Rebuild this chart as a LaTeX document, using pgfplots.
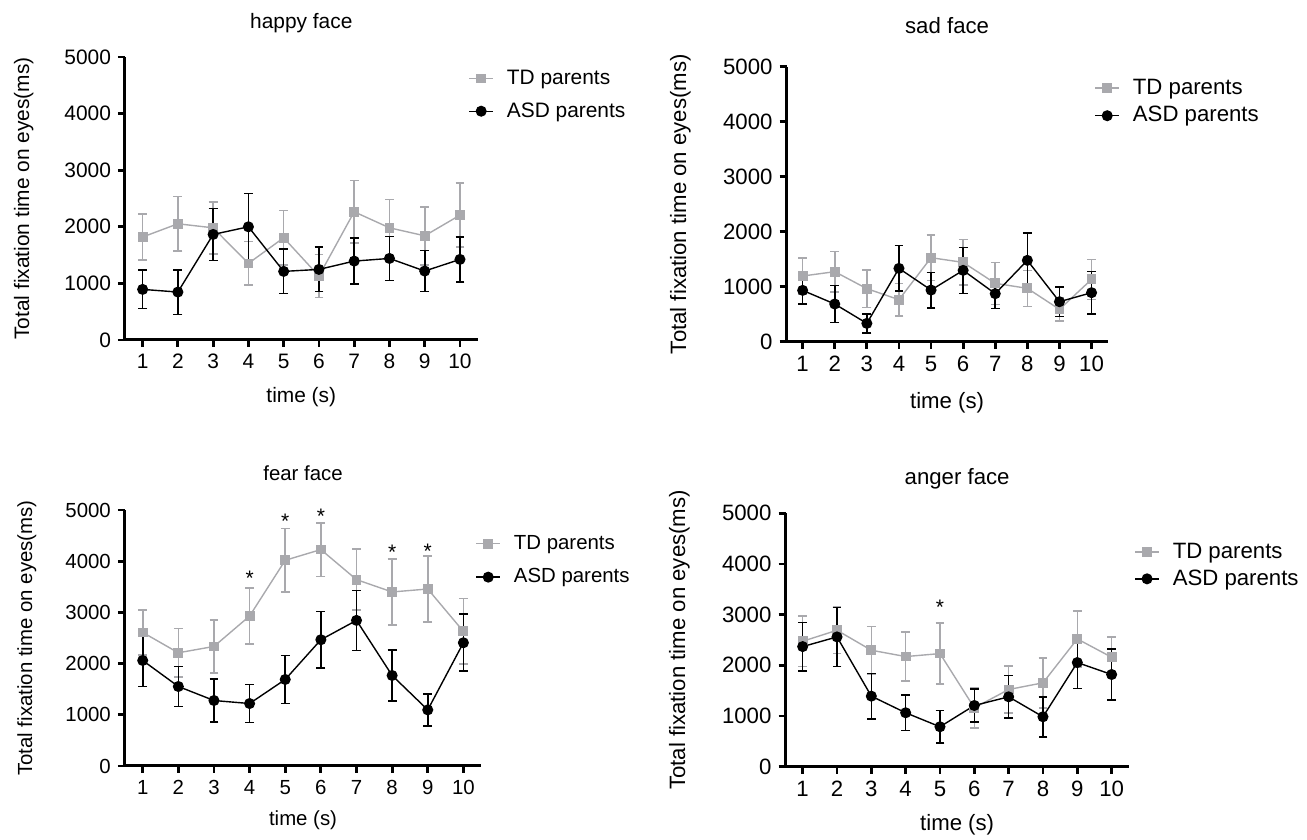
\documentclass[border=0pt]{standalone}
\usepackage{fontspec}
\setmainfont{Liberation Sans}
\usepackage{pgfplots}
\pgfplotsset{compat=1.18}
\definecolor{tdgray}{RGB}{169,169,173}
\pgfplotsset{
  every axis title shift=0pt,
  panel/.style={
    scale only axis,
    xmin=0.5, xmax=10.5, ymin=0, ymax=5000,
    axis x line*=bottom, axis y line*=left,
    axis line style={line width=1.5pt},
    xtick={1,2,...,10}, ytick={0,1000,2000,3000,4000,5000},
    tick align=outside, major tick length=3.5pt,
    tick style={line width=1.4pt, black},
    /pgf/number format/1000 sep={},
    /pgf/number format/assume math mode=true,
    xlabel={time (s)},
    ylabel={Total fixation time on eyes(ms)},
    clip=false,
    legend cell align=left,
    legend style={draw=none, fill=none, anchor=west, inner sep=0pt,
      /tikz/every odd column/.append style={column sep=4.5pt}},
    legend image code/.code={\draw[##1, mark repeat=2, mark phase=2] plot coordinates {(0pt,0pt) (6pt,0pt) (12pt,0pt)};},
  },
  fs/.style={
    tick label style={font=\fontsize{#1}{#1}\selectfont},
    label style={font=\fontsize{#1}{#1}\selectfont},
    title style={font=\fontsize{#1}{#1}\selectfont},
    legend style={font=\fontsize{#1}{#1}\selectfont},
  },
  td/.style={color=tdgray, line width=0.7pt, mark=square*, mark size=2.1pt, mark options={solid, fill=tdgray, draw=tdgray},
    error bars/.cd, y dir=both, y explicit, error bar style={line width=0.8pt, tdgray},
    error mark options={rotate=90, mark size=2.2pt, line width=0.8pt, tdgray}},
  asd/.style={color=black, line width=0.7pt, mark=*, mark size=2.4pt, mark options={solid, fill=black},
    error bars/.cd, y dir=both, y explicit, error bar style={line width=0.8pt, black},
    error mark options={rotate=90, mark size=2.2pt, line width=0.8pt, black}},
  stars/.style={only marks, mark=text, text mark={*}, text mark as node=true, text mark style={font=\fontsize{10.5}{10.5}\selectfont, text=black, anchor=center}, forget plot},
}
\begin{document}
\begin{tikzpicture}
% ---------------- happy face
\begin{axis}[panel, fs=10.45, at={(62.5pt,250pt)}, anchor=south west, width=176.3pt, height=141.5pt,
  title={happy face}, title style={at={(axis description cs:0.5,1.12)}, anchor=center},
  ylabel style={at={(axis description cs:-0.287,0.5)}, anchor=center},
  xlabel style={at={(axis description cs:0.5,-0.201)}, anchor=center},
  legend style={at={(axis description cs:0.973,0.866)}, row sep=3.6pt}]
\addplot+[td] coordinates {(1,1820) +- (0,408) (2,2053) +- (0,485) (3,1982) +- (0,459) (4,1353) +- (0,385) (5,1806) +- (0,480)
  (6,1129) +- (0,380) (7,2265) +- (0,556) (8,1982) +- (0,497) (9,1841) +- (0,512) (10,2206) +- (0,567)};
\addlegendentry{TD parents}
\addplot+[asd] coordinates {(1,894) +- (0,341) (2,847) +- (0,394) (3,1865) +- (0,459) (4,2000) +- (0,585) (5,1212) +- (0,391)
  (6,1247) +- (0,391) (7,1394) +- (0,403) (8,1441) +- (0,388) (9,1218) +- (0,362) (10,1424) +- (0,400)};
\addlegendentry{ASD parents}
\end{axis}
% ---------------- sad face
\begin{axis}[panel, fs=11.1, at={(393.3pt,249.15pt)}, anchor=south west, width=160.5pt, height=137.5pt,
  title={sad face}, title style={at={(axis description cs:0.5,1.148)}, anchor=center},
  ylabel style={at={(axis description cs:-0.331,0.5)}, anchor=center},
  xlabel style={at={(axis description cs:0.5,-0.223)}, anchor=center},
  legend style={at={(axis description cs:0.958,0.872)}, row sep=0.7pt}]
\addplot+[td] coordinates {(1,1194) +- (0,330) (2,1273) +- (0,366) (3,964) +- (0,342) (4,764) +- (0,294) (5,1527) +- (0,412)
  (6,1442) +- (0,415) (7,1061) +- (0,382) (8,970) +- (0,327) (9,588) +- (0,212) (10,1133) +- (0,364)};
\addlegendentry{TD parents}
\addplot+[asd] coordinates {(1,933) +- (0,243) (2,685) +- (0,336) (3,333) +- (0,172) (4,1333) +- (0,415) (5,939) +- (0,321)
  (6,1297) +- (0,418) (7,873) +- (0,270) (8,1479) +- (0,494) (9,727) +- (0,266) (10,891) +- (0,385)};
\addlegendentry{ASD parents}
\end{axis}
% ---------------- fear face
\begin{axis}[panel, fs=10.2, at={(62.45pt,37pt)}, anchor=south west, width=178.15pt, height=128pt,
  title={fear face}, title style={at={(axis description cs:0.5,1.145)}, anchor=center},
  ylabel style={at={(axis description cs:-0.275,0.5)}, anchor=center},
  xlabel style={at={(axis description cs:0.5,-0.211)}, anchor=center},
  legend style={at={(axis description cs:0.983,0.803)}, row sep=4.2pt}]
\addplot+[td] coordinates {(1,2609) +- (0,440) (2,2211) +- (0,476) (3,2335) +- (0,515) (4,2929) +- (0,545) (5,4018) +- (0,620)
  (6,4227) +- (0,524) (7,3640) +- (0,594) (8,3399) +- (0,640) (9,3457) +- (0,639) (10,2629) +- (0,639)};
\addlegendentry{TD parents}
\addplot+[asd] coordinates {(1,2061) +- (0,508) (2,1553) +- (0,391) (3,1279) +- (0,424) (4,1220) +- (0,371) (5,1690) +- (0,466)
  (6,2466) +- (0,548) (7,2844) +- (0,587) (8,1768) +- (0,499) (9,1096) +- (0,310) (10,2407) +- (0,557)};
\addlegendentry{ASD parents}
\addplot[stars] coordinates {(4,3670) (5,4770) (6,4875) (8,4170) (9,4200)};
\end{axis}
% ---------------- anger face
\begin{axis}[panel, fs=11.1, at={(392.75pt,36.65pt)}, anchor=south west, width=171.65pt, height=126.7pt,
  title={anger face}, title style={at={(axis description cs:0.5,1.135)}, anchor=center},
  ylabel style={at={(axis description cs:-0.309,0.5)}, anchor=center},
  xlabel style={at={(axis description cs:0.5,-0.23)}, anchor=center},
  legend style={at={(axis description cs:1.015,0.794)}, row sep=0.2pt}]
\addplot+[td] coordinates {(1,2475) +- (0,496) (2,2692) +- (0,460) (3,2298) +- (0,470) (4,2173) +- (0,483) (5,2232) +- (0,598)
  (6,1162) +- (0,395) (7,1523) +- (0,463) (8,1655) +- (0,492) (9,2521) +- (0,552) (10,2160) +- (0,400)};
\addlegendentry{TD parents}
\addplot+[asd] coordinates {(1,2370) +- (0,479) (2,2561) +- (0,581) (3,1392) +- (0,446) (4,1064) +- (0,348) (5,788) +- (0,322)
  (6,1208) +- (0,328) (7,1379) +- (0,417) (8,985) +- (0,394) (9,2055) +- (0,512) (10,1819) +- (0,508)};
\addlegendentry{ASD parents}
\addplot[stars] coordinates {(5,3140)};
\end{axis}
\pgfresetboundingbox
\path (0,0) rectangle (653.5pt,420pt);
\end{tikzpicture}
\end{document}
